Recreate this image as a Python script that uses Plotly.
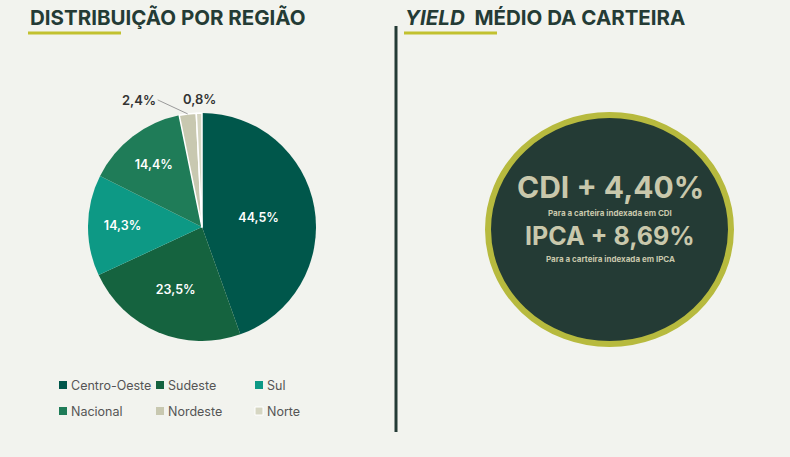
import math
import plotly.graph_objects as go

# dados
regioes = ["Centro-Oeste", "Sudeste", "Sul", "Nacional", "Nordeste", "Norte"]
percentuais = [44.5, 23.5, 14.3, 14.4, 2.4, 0.8]
cores = ["#00574b", "#15633f", "#0d9985", "#1f7c58", "#c8c8b0", "#d6d6c2"]

yield_titulos = ["CDI + 4,40%", "IPCA + 8,69%"]
yield_legendas = ["Para a carteira indexada em CDI", "Para a carteira indexada em IPCA"]

W, H = 790, 457
BG = "#f2f3ee"
DARK = "#243b35"
LIME = "#c2c12f"
FONT = "Inter, Lato, sans-serif"

# geometria da pizza (pixels)
PIE_CX, PIE_CY, PIE_R = 202, 227, 114


def px_x(x):
    return x / W


def px_y(y):
    return 1 - y / H


labels_txt = [f"{v:.1f}%".replace(".", ",") for v in percentuais]
fatias_pequenas = [v < 5 for v in percentuais]

fig = go.Figure()
fig.add_trace(go.Pie(
    labels=regioes,
    values=percentuais,
    text=[("" if p else t) for t, p in zip(labels_txt, fatias_pequenas)],
    textinfo="text",
    textposition="inside",
    insidetextorientation="horizontal",
    sort=False,
    direction="clockwise",
    rotation=0,
    marker=dict(colors=cores, line=dict(color="white", width=[0, 0, 0, 0, 1.5, 1.5])),
    insidetextfont=dict(color="white", size=12.5, family=FONT, weight=600),
    domain=dict(x=[px_x(PIE_CX - PIE_R), px_x(PIE_CX + PIE_R)],
                y=[px_y(PIE_CY + PIE_R), px_y(PIE_CY - PIE_R)]),
    showlegend=False,
    hoverinfo="label+percent",
))

shapes = []
annotations = []

# rotulos externos das fatias pequenas
total = sum(percentuais)
acum = 0
offsets = {"Nordeste": (-30, -14), "Norte": (0, -14)}
for nome, v, t, p in zip(regioes, percentuais, labels_txt, fatias_pequenas):
    ang = math.radians((acum + v / 2) / total * 360)
    acum += v
    if not p:
        continue
    ex = PIE_CX + PIE_R * math.sin(ang)
    ey = PIE_CY - PIE_R * math.cos(ang)
    ax, ay = offsets[nome]
    annotations.append(dict(x=px_x(ex), y=px_y(ey), xref="paper", yref="paper",
                            text=t, showarrow=nome == "Nordeste", arrowhead=0, arrowwidth=1,
                            arrowcolor="#9a9a9a", ax=ax, ay=ay, standoff=0,
                            xanchor="right" if nome == "Nordeste" else "center",
                            yanchor="bottom" if nome == "Norte" else "middle",
                            yshift=4 if nome == "Norte" else 0,
                            font=dict(size=13, color="#333333", family=FONT, weight=600)))

# titulos
annotations.append(dict(x=px_x(28), y=px_y(18), xref="paper", yref="paper", xanchor="left", yanchor="middle",
                        text="<b>DISTRIBUIÇÃO POR REGIÃO</b>", showarrow=False,
                        font=dict(size=20.5, color=DARK, family=FONT, weight=800)))
annotations.append(dict(x=px_x(403), y=px_y(18), xref="paper", yref="paper", xanchor="left", yanchor="middle",
                        text="<b><i>YIELD</i>  MÉDIO DA CARTEIRA</b>", showarrow=False,
                        font=dict(size=20.5, color=DARK, family=FONT, weight=800)))
shapes.append(dict(type="line", xref="paper", yref="paper", x0=px_x(28), x1=px_x(121), y0=px_y(33), y1=px_y(33),
                   line=dict(color=LIME, width=3)))
shapes.append(dict(type="line", xref="paper", yref="paper", x0=px_x(404), x1=px_x(497), y0=px_y(33), y1=px_y(33),
                   line=dict(color=LIME, width=3)))

# divisor vertical
shapes.append(dict(type="line", xref="paper", yref="paper", x0=px_x(396), x1=px_x(396), y0=px_y(26), y1=px_y(432),
                   line=dict(color=DARK, width=3)))

# circulo
shapes.append(dict(type="circle", xref="paper", yref="paper",
                   x0=px_x(488), x1=px_x(731), y0=px_y(344), y1=px_y(115),
                   fillcolor=DARK, line=dict(color="#b7ba3e", width=6)))

ys_big = [187, 236]
sizes_big = [30, 25]
ys_small = [213, 259]
for t, s, yb, sz, ys in zip(yield_titulos, yield_legendas, ys_big, sizes_big, ys_small):
    annotations.append(dict(x=px_x(610), y=px_y(yb), xref="paper", yref="paper", xanchor="center", yanchor="middle",
                            text=f"<b>{t}</b>", showarrow=False,
                            font=dict(size=sz, color="#c9c8ac", family=FONT, weight=800)))
    annotations.append(dict(x=px_x(610), y=px_y(ys), xref="paper", yref="paper", xanchor="center", yanchor="middle",
                            text=f"<b>{s}</b>", showarrow=False,
                            font=dict(size=8, color="#c9c8ac", family=FONT)))

# legenda
leg_x = [59, 156, 255]
leg_y = [385, 411]
for i, (nome, cor) in enumerate(zip(regioes, cores)):
    cx = leg_x[i % 3]
    cy = leg_y[i // 3]
    shapes.append(dict(type="rect", xref="paper", yref="paper",
                       x0=px_x(cx), x1=px_x(cx + 8), y0=px_y(cy + 4), y1=px_y(cy - 4),
                       fillcolor=cor, line=dict(color="white", width=1 if nome == "Norte" else 0)))
    annotations.append(dict(x=px_x(cx + 10), y=px_y(cy), xref="paper", yref="paper", xanchor="left", yanchor="middle",
                            text=nome, showarrow=False, font=dict(size=12.5, color="#555555", family=FONT)))

fig.update_layout(
    width=W, height=H,
    margin=dict(l=0, r=0, t=0, b=0),
    paper_bgcolor=BG, plot_bgcolor=BG,
    shapes=shapes, annotations=annotations,
    xaxis=dict(visible=False), yaxis=dict(visible=False),
)

fig.write_html("out.html", config={"displayModeBar": False},
               post_script="document.body.style.margin='0';document.body.style.background='" + BG + "';")
